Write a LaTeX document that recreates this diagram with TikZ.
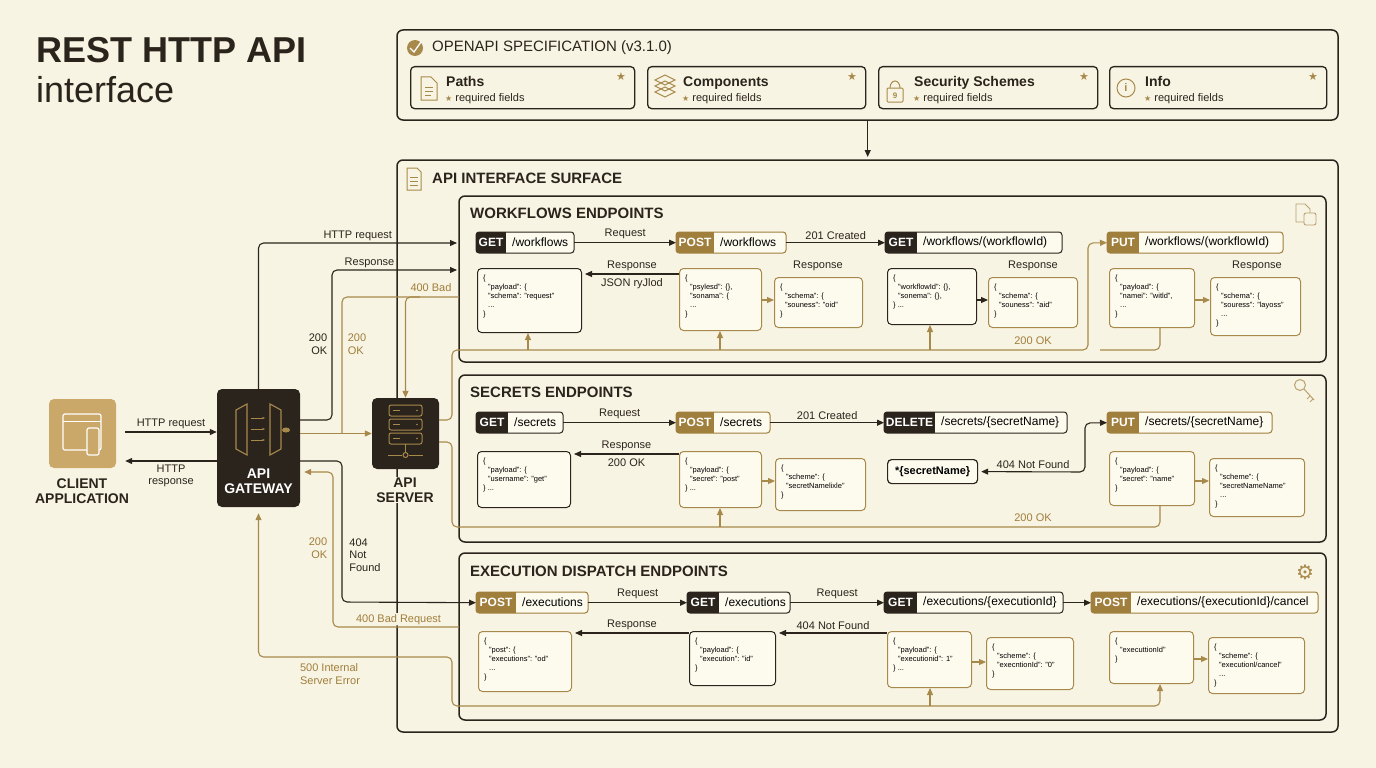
\documentclass[tikz,border=0pt]{standalone}
\usepackage{fontspec}
\setmainfont{Liberation Sans}
\newfontfamily\symf{DejaVu Sans}
\usetikzlibrary{arrows.meta}
\definecolor{bgc}{HTML}{F8F4E3}
\definecolor{dk}{HTML}{2B241C}
\definecolor{gd}{HTML}{A8894C}
\definecolor{gm}{HTML}{A07E3C}
\definecolor{cl}{HTML}{C9A86A}
\definecolor{pathc}{HTML}{FDFAEE}
\newcommand\epf{\fontsize{12}{14}\selectfont}
\newcommand\jf{\fontsize{7.5}{9}\selectfont}
\newcommand\lf{\fontsize{11}{12.5}\selectfont}
\newcommand\ep[8]{%
\fill[pathc, rounded corners=3] (#2,#3) rectangle (#5,{#3+21});
\begin{scope}\clip[rounded corners=3] (#2,#3) rectangle (#5,{#3+21});
\fill[#6] (#2,#3) rectangle (#4,{#3+21});\end{scope}
\draw[#6, line width=1pt, rounded corners=3] (#2,#3) rectangle (#5,{#3+21});
\node[inner sep=0, minimum width={(#5-#2)*1pt}, minimum height=21pt, anchor=north west] (#1) at (#2,#3) {};
\node[font=\epf\bfseries, text=white, inner sep=0] at ({(#2+#4)/2},{#3+10.5}) {#7};
\node[font=\epf, anchor=west, inner sep=0] at ({#4+6},{#3+10.5}) {#8};}
\newcommand\jb[7]{%
\node[draw=#6, line width=1pt, rounded corners=4, fill=pathc, minimum width={(#4-#2)*1pt}, minimum height={(#5-#3)*1pt}, anchor=north west, inner sep=0] (#1) at (#2,#3) {};
\node[anchor=north west, font=\jf, align=left, inner sep=0] at ({#2+6},{#3+7}) {#7};}
\newcommand\ind{\hspace*{5pt}}
\tikzset{
 arr/.style={dk, line width=1.1pt, -{Triangle[length=7pt,width=6pt]}},
 dline/.style={dk, line width=1.1pt},
 garr/.style={gd, line width=1.1pt, -{Triangle[length=7pt,width=6pt]}},
 gline/.style={gd, line width=1.1pt},
 lab/.style={font=\lf, text=dk, inner sep=1pt},
 glab/.style={font=\lf, text=gm, inner sep=1pt},
 frame/.style={draw=dk, line width=1.5pt, rounded corners=6},
 sub/.style={draw=dk, line width=1.3pt, rounded corners=4, fill=bgc},
 sect/.style={font=\fontsize{15}{17}\selectfont\bfseries, text=dk, anchor=west, inner sep=0},
 rc/.style={rounded corners=5},
}
\begin{document}
\begin{tikzpicture}[x=1pt,y=-1pt]
\fill[bgc] (0,0) rectangle (1376,768);
\useasboundingbox (0,0) rectangle (1376,768);
% title
\node[anchor=west, font=\fontsize{36}{40}\selectfont\bfseries, text=dk, inner sep=0] (t1) at (36,50) {REST HTTP API};
\node[anchor=west, font=\fontsize{36}{40}\selectfont, text=dk, inner sep=0] (t2) at (36,90) {interface};
% openapi
\draw[frame] (397,30) rectangle (1338,120);
\node[inner sep=0, minimum width=941pt, minimum height=90pt, anchor=north west] (oa) at (397,30) {};
\fill[gd] (415,48) circle (8);
\draw[white, line width=1.3pt] (410,48) -- (414,52) -- (421,42);
\node[anchor=west, font=\fontsize{15}{17}\selectfont, text=dk, inner sep=0] (oat) at (432,48) {OPENAPI SPECIFICATION (v3.1.0)};
\foreach \xa/\xb/\nm/\lbl in {410/634/p1/Paths,647/865/p2/Components,878/1097/p3/Security Schemes,1109/1326/p4/Info}{
 \node[sub, minimum width={(\xb-\xa)*1pt}, minimum height=42pt, anchor=north west, inner sep=0] (\nm) at (\xa,66) {};
 \node[anchor=base west, font=\fontsize{14}{16}\selectfont\bfseries, text=dk, inner sep=0] at ({\xa+36},86) {\lbl};
 \node[anchor=base west, font=\fontsize{11}{13}\selectfont, text=dk, inner sep=0] at ({\xa+35},101) {{\symf\color{gd}\fontsize{8}{9}\selectfont ★} required fields};
 \node[text=gd, font=\symf\fontsize{11}{12}\selectfont, inner sep=0] at ({\xb-13},77) {★};
}
% small icons
\draw[gd, line width=1pt] (421,77) -- (431,77) -- (437,83) -- (437,100) -- (421,100) -- cycle;
\draw[gd, line width=0.8pt] (425,87) -- (433,87) (425,91) -- (433,91) (425,95) -- (431,95);
\foreach \dy in {0,6,12}{\draw[gd, line width=1pt] (655,{80+\dy}) -- (665,{75+\dy}) -- (675,{80+\dy}) -- (665,{85+\dy}) -- cycle;}
\draw[gd, line width=1pt, rounded corners=1] (887,88) rectangle (903,102);
\draw[gd, line width=1pt] (890,88) arc (180:360:5 and 7);
\node[text=gd, font=\fontsize{8}{9}\selectfont\bfseries, inner sep=0] at (895,96) {9};
\draw[gd, line width=1pt] (1126,88) circle (9);
\node[text=gd, font=\fontsize{11}{12}\selectfont\bfseries, inner sep=0] at (1126,88) {i};
\draw[arr] (oa.south) -- (oa.south |- 0,157);
% API interface surface
\draw[frame] (397,160) rectangle (1338,732);
\node[inner sep=0, minimum width=941pt, minimum height=572pt, anchor=north west] (ais) at (397,160) {};
\draw[gd, line width=1pt] (407,168) -- (417,168) -- (421,172) -- (421,190) -- (407,190) -- cycle;
\draw[gd, line width=0.8pt] (410,177) -- (418,177) (410,181) -- (418,181) (410,185) -- (418,185);
\node[sect] (aist) at (432,178) {API INTERFACE SURFACE};
% sections
\draw[frame] (459,196) rectangle (1326,362);
\node[sect] at (470,213) {WORKFLOWS ENDPOINTS};
\draw[frame] (459,375) rectangle (1326,542);
\node[sect] at (470,392) {SECRETS ENDPOINTS};
\draw[frame] (459,553) rectangle (1326,720);
\node[sect] at (470,571) {EXECUTION DISPATCH ENDPOINTS};
% section icons
\draw[gd!80, line width=0.9pt] (1296,204) -- (1305,204) -- (1310,209) -- (1310,222) -- (1296,222) -- cycle;
\draw[gd!80, line width=0.9pt, rounded corners=2, fill=bgc] (1304,213) rectangle (1316,225);
\draw[gd!80, line width=1pt] (1300,385) circle (5.5);
\draw[gd!80, line width=1pt] (1304,389) -- (1314,400) (1310,396) -- (1307,399) (1313,399) -- (1310,402);
\node[text=gd, font=\symf\fontsize{20}{20}\selectfont, inner sep=0] at (1305,572) {⚙};
% ---------- workflows
\ep{wget}{476}{232}{506}{574}{dk}{GET}{/workflows}
\ep{wpost}{676}{232}{714}{786}{gm}{POST}{/workflows}
\ep{wgid}{885}{232}{917}{1062}{dk}{GET}{/workflows/(workflowId)}
\ep{wput}{1107}{232}{1139}{1283}{gm}{PUT}{/workflows/(workflowId)}
\draw[arr] (wget.east) -- node[lab, above=2pt] {Request} (wpost.west);
\draw[arr] (wpost.east) -- node[lab, above=2pt] {201 Created} (wgid.west);
\jb{j1}{477}{268}{581}{332}{dk}{\{\\\ind"payload": \{\\\ind"schema": "request"\\\ind...\\\}}
\jb{j2}{679}{268}{761}{330}{gd}{\{\\\ind"psylesd": \{\},\\\ind"sonama": \{\\\ind...\\\}}
\jb{j3}{774}{277}{862}{327}{gd}{\{\\\ind"schema": \{\\\ind"souness": "oid"\\\}}
\jb{j4}{887}{268}{976}{324}{dk}{\{\\\ind"workflowId": \{\},\\\ind"sonema": \{\},\\\} ...}
\jb{j5}{988}{277}{1077}{327}{gd}{\{\\\ind"schema": \{\\\ind"souness": "aid"\\\}}
\jb{j6}{1109}{268}{1194}{327}{gd}{\{\\\ind"payload": \{\\\ind"namei": "witld",\\\ind...\\\}}
\jb{j7}{1210}{277}{1300}{335}{gd}{\{\\\ind"schema": \{\\\ind"souress": "layoss"\\\ind...\\\}}
\draw[arr] (j2.west |- 0,274) -- node[lab, above=2pt] {Response} node[lab, below=3pt] {JSON ryJlod} ([xshift=3pt]j1.east |- 0,274);
\draw[garr] (j2.east |- 0,300) -- (j3.west |- 0,300);
\draw[arr] (j4.east |- 0,300) -- (j5.west |- 0,300);
\draw[garr] (j6.east |- 0,300) -- (j7.west |- 0,300);
\node[lab] at (818,266) {Response};
\node[lab] at (1033,266) {Response};
\node[lab] at (1257,266) {Response};
% ---------- secrets
\ep{sget}{476}{412}{508}{563}{dk}{GET}{/secrets}
\ep{spost}{676}{412}{714}{770}{gm}{POST}{/secrets}
\ep{sdel}{884}{412}{935}{1067}{dk}{DELETE}{/secrets/\{secretName\}}
\ep{sput}{1107}{412}{1139}{1272}{gm}{PUT}{/secrets/\{secretName\}}
\draw[arr] (sget.east) -- node[lab, above=2pt] {Request} (spost.west);
\draw[arr] (spost.east) -- node[lab, above=2pt] {201 Created} (sdel.west);
\jb{s1}{477}{451}{570}{507}{dk}{\{\\\ind"payload": \{\\\ind"username": "get"\\\} ...}
\jb{s2}{679}{451}{761}{507}{gd}{\{\\\ind"payload": \{\\\ind"secret": "post"\\\} ...}
\jb{s3}{775}{458}{865}{510}{gd}{\{\\\ind"scheme": \{\\\ind"secretNamelixle"\\\}}
\node[draw=dk, line width=1.2pt, rounded corners=4, fill=pathc, font=\fontsize{11}{13}\selectfont\bfseries, minimum width=90pt, minimum height=24pt, inner sep=0, anchor=north west] (sn) at (887,459) {*\{secretName\}};
\jb{s5}{1109}{451}{1194}{505}{gd}{\{\\\ind"payload": \{\\\ind"secret": "name"\\\}}
\jb{s6}{1209}{458}{1304}{516}{gd}{\{\\\ind"scheme": \{\\\ind"secretNameName"\\\ind...\\\}}
\draw[arr] (s2.west |- 0,454) -- node[lab, above=2pt] {Response} node[lab, below=3pt] {200 OK} ([xshift=3pt]s1.east |- 0,454);
\draw[garr] (s2.east |- 0,481) -- (s3.west |- 0,481);
\draw[garr] (s5.east |- 0,481) -- (s6.west |- 0,481);
\draw[dk, line width=1.1pt, {Triangle[length=7pt,width=6pt]}-{Triangle[length=7pt,width=6pt]}, rounded corners=5] ([xshift=3pt]sn.east) -- node[lab, above=2pt] {404 Not Found} (1085,472) -- (1085,423) -- (sput.west);
% ---------- executions
\ep{epost}{476}{592}{516}{588}{gm}{POST}{/executions}
\ep{eget}{687}{592}{719}{790}{dk}{GET}{/executions}
\ep{egid}{884}{592}{917}{1063}{dk}{GET}{/executions/\{executionId\}}
\ep{ecan}{1091}{592}{1131}{1318}{gm}{POST}{/executions/\{executionId\}/cancel}
\draw[arr] (epost.east) -- node[lab, above=2pt] {Request} (eget.west);
\draw[arr] (eget.east) -- node[lab, above=2pt] {Request} (egid.west);
\draw[arr] (egid.east) -- (ecan.west);
\jb{e1}{478}{631}{571}{691}{gd}{\{\\\ind"post": \{\\\ind"executions": "od"\\\ind...\\\}}
\jb{e2}{689}{631}{775}{685}{dk}{\{\\\ind"payload": \{\\\ind"execution": "id"\\\}}
\jb{e3}{887}{631}{971}{687}{gd}{\{\\\ind"payload": \{\\\ind"executionid": 1"\\\} ...}
\jb{e4}{986}{637}{1073}{689}{gd}{\{\\\ind"scheme": \{\\\ind"execntionId": "0"\\\}}
\jb{e5}{1109}{631}{1193}{683}{gd}{\{\\\ind"executtionId"\\\}}
\jb{e6}{1208}{637}{1304}{693}{gd}{\{\\\ind"scheme": \{\\\ind"executionl/cancel"\\\ind...\\\}}
\draw[arr] (e2.west |- 0,633) -- node[lab, above=2pt] {Response} ([xshift=3pt]e1.east |- 0,633);
\draw[arr] (e3.west |- 0,633) -- node[lab, above=2pt] {404 Not Found} ([xshift=3pt]e2.east |- 0,633);
\draw[garr] (e3.east |- 0,662) -- (e4.west |- 0,662);
\draw[garr] (e5.east |- 0,659) -- (e6.west |- 0,659);
% ---------- left nodes
\node[fill=cl, rounded corners=5, minimum width=67pt, minimum height=69pt, inner sep=0] (cli) at (82.5,433.5) {};
\draw[white, line width=1.2pt, rounded corners=2] (63,414) rectangle (101,450);
\draw[white, line width=1pt] (63,421) -- (101,421);
\draw[white, line width=1.2pt, rounded corners=2, fill=cl] (87,428) rectangle (99,455);
\node[font=\fontsize{14}{15}\selectfont\bfseries, text=dk, align=center, inner sep=0] (clt) at (82,491) {CLIENT\\APPLICATION};
\node[fill=dk, rounded corners=5, minimum width=83pt, minimum height=118pt, inner sep=0] (gw) at (258.5,448) {};
\draw[gd, line width=1.1pt] (236,410) -- (247,404) -- (247,455) -- (236,449) -- cycle;
\draw[gd, line width=1.1pt] (270,404) -- (281,410) -- (281,449) -- (270,455) -- cycle;
\foreach \yy in {418,429,440}{\draw[gd, line width=1pt, -{Stealth[length=3pt]}] (251,\yy) -- (265,\yy);}
\fill[gd] (286,430) ellipse (4 and 2.5);
\node[font=\fontsize{14}{15}\selectfont\bfseries, text=white, align=center, inner sep=0] (gwt) at (258.5,481) {API\\GATEWAY};
\node[fill=dk, rounded corners=5, minimum width=67pt, minimum height=71pt, inner sep=0] (sv) at (405.5,433.5) {};
\foreach \yy in {405,419,433}{\draw[gd, line width=1pt, rounded corners=2] (389,\yy) rectangle (422,{\yy+11});
 \draw[gd, line width=0.8pt] (393,{\yy+5.5}) -- (400,{\yy+5.5}); \fill[gd] (417,{\yy+5.5}) circle (0.9);}
\draw[gd, line width=1pt] (405.5,444) -- (405.5,452) (388,455) -- (402,455) (409,455) -- (423,455);
\draw[gd, line width=1pt] (405.5,455) circle (2.5);
\node[font=\fontsize{14}{15}\selectfont\bfseries, text=dk, align=center, inner sep=1pt, fill=bgc] (svt) at (405,490) {API\\SERVER};
% client <-> gateway
\draw[arr] ([xshift=9pt,yshift=1.5pt]cli.east) -- node[lab, above=2pt] {HTTP request} ([yshift=16pt]gw.west);
\draw[arr] ([yshift=-13pt]gw.west) -- node[lab, below=2pt, align=center] {HTTP\\response} ([xshift=9pt,yshift=-27.5pt]cli.east);
% gateway routes
\draw[arr, rc] (gw.north) -- (258.5,243) -- node[lab, above=1pt] {HTTP request} (457,243);
\draw[arr, rc] ([yshift=28pt]gw.east) -- (332,420) -- (332,270) -- node[lab, above=1pt, pos=0.3] {Response} (457,270);
\node[lab, align=right] at (318,344) {200\\OK};
\draw[garr] ([yshift=14.5pt]gw.east) -- (sv.west);
\draw[gline, rc] (342,433.5) -- (342,297) -- (459,297);
\draw[garr, rc] (420,297) -- (405.5,297) -- (sv.north);
\node[glab] at (431,288) {400 Bad};
\node[glab, align=left] at (357,344) {200\\OK};
\draw[arr, rc] ([yshift=-13pt]gw.east) -- (342,461) -- (342,602) -- (epost.west);
\node[lab, align=left] at (365,555) {404\\Not\\Found};
\draw[garr, rc] (459,627) -- node[glab, above=1pt, pos=0.48, fill=bgc] {400 Bad Request} (333,627) -- (333,472) -- ([xshift=4pt,yshift=-24pt]gw.east);
\node[glab, align=right] at (318,548) {200\\OK};
\draw[garr, rc] (462,706) -- (452,706) -- (452,657) -- (258.5,657) -- ([yshift=-6pt]gw.south);
\node[glab, align=left] at (330,674) {500 Internal\\Server Error};
% buses
\draw[garr, rc] ([yshift=13.5pt]sv.east) -- (452,420) -- (452,350) -- (1088,350) -- (1088,243) -- (wput.west);
\draw[garr] (528,350) -- (j1.south -| 528,0);
\draw[garr] (720,350) -- (j2.south -| 720,0);
\draw[garr] (930,350) -- (j4.south -| 930,0);
\draw[gline, rc] (j6.south -| 1160,0) -- (1160,350) -- (1100,350);
\node[glab] at (1033,341) {200 OK};
\draw[gline, rc] ([yshift=-8.5pt]sv.east) -- (452,442) -- (452,527) -- (1160,527) -- (s5.south -| 1160,0);
\draw[garr] (720,527) -- (s2.south -| 720,0);
\node[glab] at (1033,518) {200 OK};
\draw[garr, rc] (462,706) -- (1160,706) -- (e5.south -| 1160,0);
\draw[garr] (930,706) -- (e3.south -| 930,0);
\end{tikzpicture}
\end{document}
